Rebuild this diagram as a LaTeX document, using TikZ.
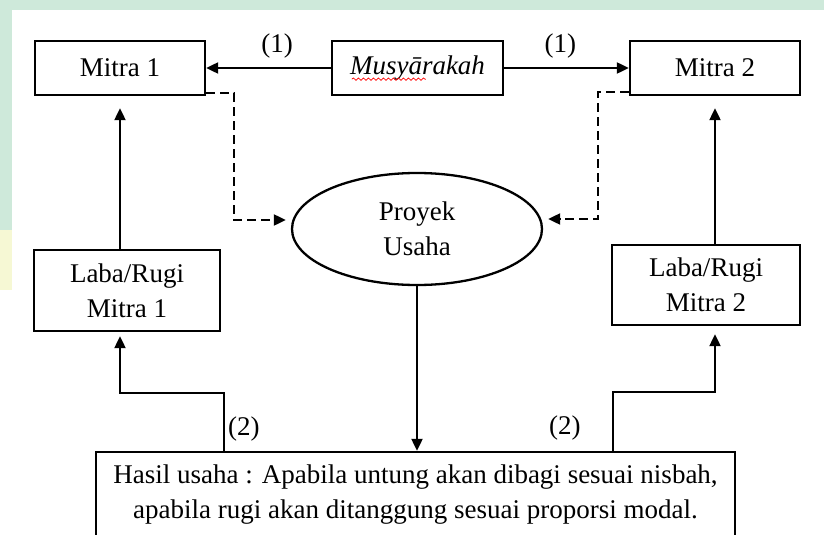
\documentclass[tikz,border=0pt]{standalone}
\usepackage{fontspec}
\setmainfont{Liberation Serif}
\usetikzlibrary{arrows.meta,positioning,shapes.geometric,decorations.pathmorphing}
\definecolor{wmgreen}{RGB}{206,233,218}
\definecolor{wmyellow}{RGB}{246,248,212}

\begin{document}
\begin{tikzpicture}[x=1pt,y=-1pt,
	font=\fontsize{27}{35}\selectfont,
	box/.style={rectangle,draw,line width=2.3pt,inner sep=0pt,align=center},
	link/.style={line width=2pt,-{Triangle[length=12pt,width=11pt]}},
	dlink/.style={link,dash pattern=on 9pt off 5pt}]
\useasboundingbox (0,0) rectangle (824,535);
% watermark edges
\fill[wmgreen] (0,0) rectangle (824,10);
\fill[wmgreen] (0,0) rectangle (12,230);
\fill[wmyellow] (0,230) rectangle (12,290);
\fill[white] (12,10) rectangle (824,535);

\begin{scope}[every node/.style={box}]
	\node[minimum width=170pt,minimum height=54pt] (mitraA) at (120,68) {Mitra 1};
	\node[minimum width=171pt,minimum height=54pt] (musy) at (417.5,68) {\textit{Musyārakah}};
	\node[minimum width=170pt,minimum height=54pt] (mitraB) at (715,68) {Mitra 2};
	\node[ellipse,minimum width=250pt,minimum height=112pt] (proyek) at (417,229) {Proyek\\Usaha};
	\node[minimum width=186pt,minimum height=81pt] (labaA) at (127,290.5) {Laba/Rugi\\Mitra 1};
	\node[minimum width=188pt,minimum height=80pt] (labaB) at (706,285) {Laba/Rugi\\Mitra 2};
	\node[minimum width=639pt,minimum height=86pt] (hasil) at (415.5,495) {Hasil usaha : Apabila untung akan dibagi sesuai nisbah,\\
	apabila rugi akan ditanggung sesuai proporsi modal.};
\end{scope}

\begin{scope}
	\draw[link] (musy) -- node[above=5pt,pos=0.43] {(1)} (mitraA);
	\draw[link] (musy) -- node[above=5pt,pos=0.45] {(1)} (mitraB);
	\draw[dlink,shorten >=5pt] ([yshift=3pt]mitraA.south east) -- ++(28,0) |- ([yshift=9pt]proyek.west);
	\draw[dlink,shorten >=5pt] ([yshift=4pt]mitraB.south west) -- ++(-31,0) |- ([yshift=10pt]proyek.east);
	\draw[link,shorten >=12pt] (labaA.north -| mitraA) -- (mitraA);
	\draw[link,shorten >=12pt] (labaB.north -| mitraB) -- (mitraB);
	\draw[link] (proyek) -- (proyek.south |- hasil.north);
	\draw[link,shorten >=4pt] ([xshift=129pt]hasil.north west) -- node[right,pos=0.38] {(2)} ++(0,-58) -| (mitraA |- labaA.south);
	\draw[link,shorten >=8pt] ([xshift=518pt]hasil.north west) -- node[left=28pt,pos=0.38] {(2)} ++(0,-59) -| (mitraB |- labaB.south);
	% spelling mark
	\draw[red,line width=0.7pt,decorate,decoration={snake,amplitude=1.2pt,segment length=5pt}]
	 ([xshift=21pt,yshift=17pt]musy.south west) -- ([xshift=95pt,yshift=17pt]musy.south west);
\end{scope}
\end{tikzpicture}
\end{document}
